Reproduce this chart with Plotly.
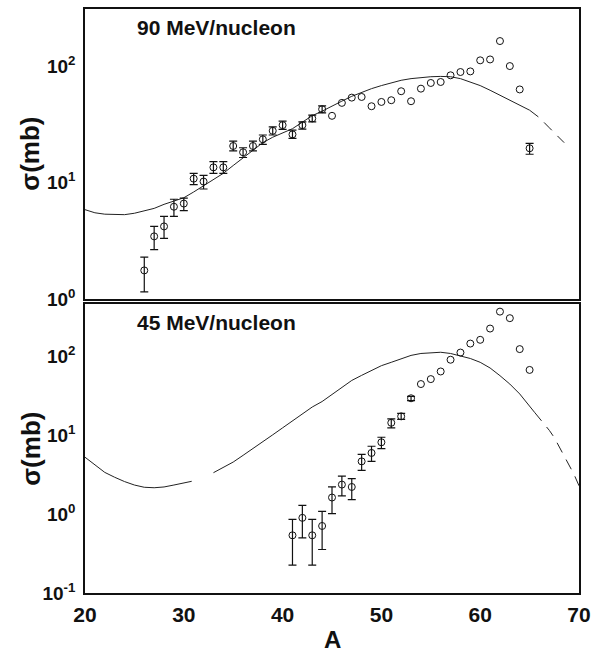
import plotly.graph_objects as go

# ---------------- data: 90 MeV/nucleon (top panel) ----------------
A90_err = [26, 27, 28, 29, 30, 31, 32, 33, 34, 35, 36, 37, 38, 39, 40, 41, 42, 43, 44, 65]
sig90_err = [1.76, 3.45, 4.2, 6.2, 6.6, 10.8, 10.2, 13.5, 13.5, 20.6, 18.2, 20.6, 23.5, 27.8,
             31.1, 25.9, 31.1, 35.5, 42.6, 19.7]
lo90 = [1.15, 2.66, 3.31, 5.12, 5.73, 9.6, 8.8, 12.0, 12.0, 18.7, 16.4, 18.7, 21.3, 25.6,
        28.6, 23.9, 28.8, 33.2, 39.7, 17.5]
hi90 = [2.29, 4.21, 5.12, 7.19, 7.35, 12.0, 11.5, 15.1, 15.1, 22.7, 19.9, 22.7, 25.6, 30.1,
        33.7, 28.2, 33.2, 37.9, 45.5, 21.7]
A90_pts = [45, 46, 47, 48, 49, 50, 51, 52, 53, 54, 55, 56, 57, 58, 59, 60, 61, 62, 63, 64]
sig90_pts = [37.4, 48.3, 53.6, 54.3, 45.2, 49.2, 50.9, 60.8, 49.9, 64, 71.6, 73, 83.3, 88.9,
             90, 112, 114, 164, 100, 63]

A90_curve = [20, 21, 22, 23, 24, 25, 26, 27, 28, 29, 30, 31, 32, 33, 34, 35, 36, 37, 38, 39, 40,
             41, 42, 43, 44, 45, 46, 47, 48, 49, 50, 51, 52, 53, 54, 55, 56, 57, 58, 59, 60,
             61, 62, 63, 64, 65]
sig90_curve = [5.85, 5.5, 5.35, 5.3, 5.3, 5.45, 5.7, 6.0, 6.5, 6.9, 7.4, 8.3, 9.4, 10.6, 12,
               14, 16.2, 19, 22, 24.5, 26.5, 29, 33, 37.5, 41, 45.5, 50, 55, 59.5, 64, 68, 72,
               75.5, 78, 80, 81, 81.5, 81, 78, 73, 68, 62, 56, 51, 46, 41.8]
A90_dash = [65, 66, 67, 68, 68.5]
sig90_dash = [41.8, 36, 29.5, 24, 22]

# ---------------- data: 45 MeV/nucleon (bottom panel) ----------------
A45_err = [41, 42, 43, 44, 45, 46, 47, 48, 49, 50, 51, 52, 53]
sig45_err = [0.54, 0.90, 0.54, 0.71, 1.63, 2.38, 2.22, 4.69, 6.0, 8.2, 14.5, 17.5, 29.7]
lo45 = [0.226, 0.50, 0.226, 0.357, 1.02, 1.71, 1.53, 3.6, 4.7, 6.8, 12.5, 16.0, 27.7]
hi45 = [0.86, 1.30, 0.86, 1.09, 2.22, 3.05, 2.83, 5.75, 7.3, 9.5, 16.3, 19.1, 31.4]
A45_pts = [54, 55, 56, 57, 58, 59, 60, 61, 62, 63, 64, 65]
sig45_pts = [45, 52, 65, 91.6, 113, 147, 164, 228, 374, 309, 125, 68]

A45_curve = [20, 21, 22, 23, 24, 25, 26, 27, 28, 29, 30, 30.8, None, 33, 34, 35, 36, 37, 38,
             39, 40, 41, 42, 43, 44, 45, 46, 47, 48, 49, 50, 51, 52, 53, 54, 55, 56, 57, 58,
             59, 60, 61, 62, 63, 64, 65, 65.5]
sig45_curve = [5.3, 4.2, 3.4, 2.95, 2.6, 2.35, 2.2, 2.17, 2.22, 2.35, 2.5, 2.62, None, 3.37,
               3.9, 4.6, 5.6, 6.8, 8.3, 10.2, 12.5, 15.3, 19, 23, 27, 33, 41, 50, 58, 67, 77,
               85, 95, 104, 110, 113, 114, 110, 103, 95, 85, 72, 57.5, 45, 33.7, 24, 19.7]
A45_dash = [65.5, 66, 66.5, 67, 67.5, 68, 68.5, 69, 69.5, 70]
sig45_dash = [19.7, 16.5, 14.3, 11.6, 9.4, 7.2, 5.6, 4.3, 3.2, 2.3]

x_ticks = [20, 30, 40, 50, 60, 70]
y_ticks_top = [1, 10, 100]
y_text_top = ["10<sup>0</sup>", "10<sup>1</sup>", "10<sup>2</sup>"]
y_ticks_bot = [0.1, 1, 10, 100]
y_text_bot = ["10<sup>-1</sup>", "10<sup>0</sup>", "10<sup>1</sup>", "10<sup>2</sup>"]

panel_titles = ["90 MeV/nucleon", "45 MeV/nucleon"]
y_title = "σ(mb)"
x_title = "A"

FONT = "Liberation Sans"
BLACK = "#111111"

fig = go.Figure()


def add_panel(xa, ya, A_curve, s_curve, A_dash, s_dash, A_err, s_err, lo, hi, A_pts, s_pts):
    fig.add_trace(go.Scatter(x=A_curve, y=s_curve, mode="lines", xaxis=xa, yaxis=ya,
                             line=dict(color="#222222", width=1), connectgaps=False,
                             showlegend=False, hoverinfo="skip"))
    fig.add_trace(go.Scatter(x=A_dash, y=s_dash, mode="lines", xaxis=xa, yaxis=ya,
                             line=dict(color="#222222", width=1, dash="11px,8px"),
                             showlegend=False, hoverinfo="skip"))
    fig.add_trace(go.Scatter(
        x=A_err, y=s_err, mode="markers", xaxis=xa, yaxis=ya,
        marker=dict(symbol="circle-open", size=7, color=BLACK, line=dict(width=1, color=BLACK)),
        error_y=dict(type="data", symmetric=False,
                     array=[h - v for h, v in zip(hi, s_err)],
                     arrayminus=[v - l for v, l in zip(s_err, lo)],
                     color=BLACK, thickness=1.2, width=4),
        showlegend=False))
    fig.add_trace(go.Scatter(
        x=A_pts, y=s_pts, mode="markers", xaxis=xa, yaxis=ya,
        marker=dict(symbol="circle-open", size=7, color=BLACK, line=dict(width=1, color=BLACK)),
        showlegend=False))


add_panel("x", "y", A90_curve, sig90_curve, A90_dash, sig90_dash,
          A90_err, sig90_err, lo90, hi90, A90_pts, sig90_pts)
add_panel("x2", "y2", A45_curve, sig45_curve, A45_dash, sig45_dash,
          A45_err, sig45_err, lo45, hi45, A45_pts, sig45_pts)

axis_common = dict(showline=True, linecolor=BLACK, linewidth=1.5, mirror=True,
                   showgrid=False, zeroline=False, ticks="")

fig.update_layout(
    width=598, height=654,
    margin=dict(l=85, r=19, t=7, b=61),
    paper_bgcolor="white", plot_bgcolor="white",
    font=dict(family=FONT, color=BLACK),
    xaxis=dict(domain=[0, 1], anchor="y", range=[20, 70], showticklabels=False,
               tickvals=x_ticks, **axis_common),
    yaxis=dict(domain=[0.5034, 1], anchor="x", type="log", range=[0, 2.49],
               tickvals=y_ticks_top, ticktext=y_text_top, ticklabelstandoff=4,
               tickfont=dict(family=FONT, size=19, color=BLACK, weight="bold"), **axis_common),
    xaxis2=dict(domain=[0, 1], anchor="y2", range=[20, 70], tickvals=x_ticks,
                ticktext=[str(v) for v in x_ticks], ticklabelstandoff=2,
                tickfont=dict(family=FONT, size=21, color=BLACK, weight="bold"), **axis_common),
    yaxis2=dict(domain=[0, 0.4949], anchor="x2", type="log", range=[-1, 2.67],
                tickvals=y_ticks_bot, ticktext=y_text_bot, ticklabelstandoff=4,
                tickfont=dict(family=FONT, size=19, color=BLACK, weight="bold"), **axis_common),
)

ann = []
for title, yc in zip(panel_titles, [0.969, 0.464]):
    ann.append(dict(text=title, xref="paper", yref="paper", x=0.101, y=yc,
                    xanchor="left", yanchor="middle", showarrow=False,
                    font=dict(family=FONT, size=21, color=BLACK, weight="bold")))
for yc in [0.7526, 0.2474]:
    ann.append(dict(text=y_title, xref="paper", yref="paper", x=-0.111, y=yc,
                    xanchor="center", yanchor="middle", textangle=-90, showarrow=False,
                    font=dict(family=FONT, size=26, color=BLACK, weight="bold")))
ann.append(dict(text=x_title, xref="paper", yref="paper", x=0.5, y=-0.079,
                xanchor="center", yanchor="middle", showarrow=False,
                font=dict(family=FONT, size=24, color=BLACK, weight="bold")))
fig.update_layout(annotations=ann)

fig.write_html("out.html", config={"displayModeBar": False},
               post_script=["document.body.style.margin='0';document.body.style.overflow='hidden';"])
